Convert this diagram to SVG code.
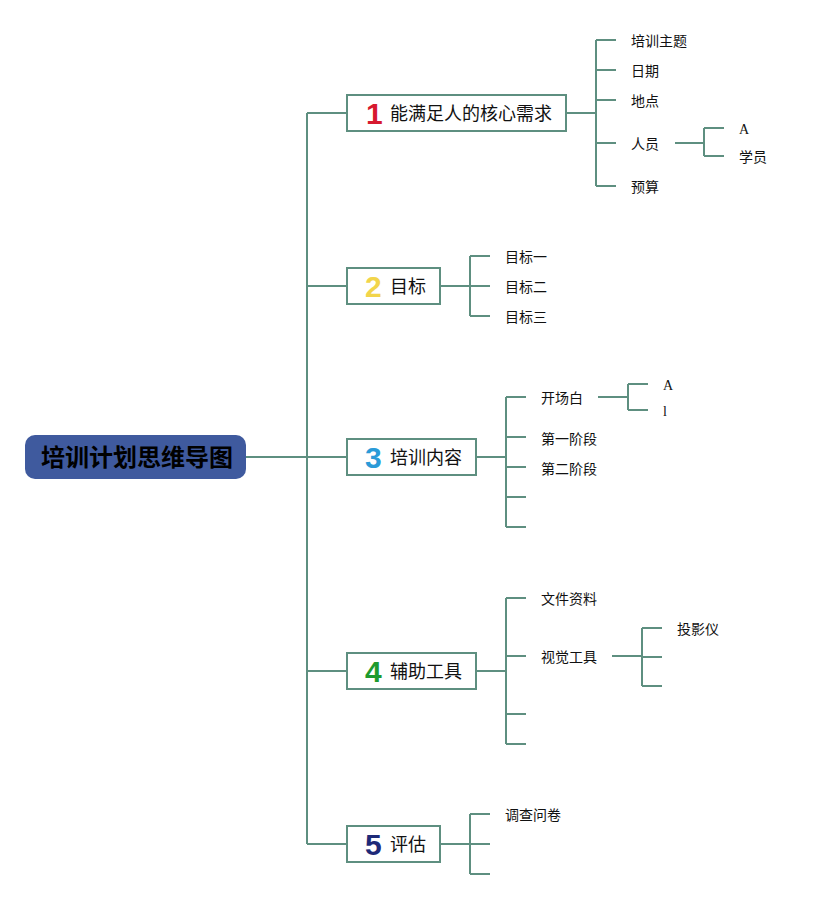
<svg xmlns="http://www.w3.org/2000/svg" width="827" height="899" viewBox="0 0 827 899">
<style>
.ln{fill:none;stroke:#5E8F80;stroke-width:2}
.box{fill:#fff;stroke:#5E8F80;stroke-width:2}
.t1{font-family:"Noto Sans CJK SC","Noto Sans",sans-serif;font-size:18px;fill:#111}
.t2{font-family:"Noto Sans CJK SC","Noto Sans",sans-serif;font-size:14px;fill:#111}
.tl{font-family:"Liberation Serif",serif;font-size:14px;fill:#111}
.num{font-family:"Liberation Sans",Arial,sans-serif;font-weight:bold;font-size:30px}
.root{font-family:"Noto Sans CJK SC",sans-serif;font-weight:bold;font-size:24px;fill:#000}
</style>
<rect width="827" height="899" fill="#fff"/>
<g id="connectors">
<path class="ln" d="M246 457H307M307 113V844M307 113H347M307 286H347M307 457H347M307 671H347M307 844H347"/>
<path class="ln" d="M566 113H596M596 40V186M596 40H616M596 70H616M596 100H616M596 143H616M596 186H616"/>
<path class="ln" d="M675 143H704M704 128V156M704 128H724M704 156H724"/>
<path class="ln" d="M440 286H470M470 256V316M470 256H490M470 286H490M470 316H490"/>
<path class="ln" d="M476 457H506M506 397V527M506 397H526M506 437H526M506 467H526M506 497H526M506 527H526"/>
<path class="ln" d="M598 397H628M628 384V410M628 384H648M628 410H648"/>
<path class="ln" d="M476 671H506M506 598V744M506 598H526M506 656H526M506 714H526M506 744H526"/>
<path class="ln" d="M612 656H642M642 628V686M642 628H662M642 657H662M642 686H662"/>
<path class="ln" d="M440 844H470M470 814V874M470 814H490M470 844H490M470 874H490"/>
</g>
<g id="root">
<rect x="25" y="435" width="221" height="44" rx="10" fill="#3F5A9E"/>
<text class="root" x="137" y="466" text-anchor="middle">培训计划思维导图</text>
</g>
<g id="n1">
<rect class="box" x="347" y="95" width="219" height="36"/>
<text class="num" x="366" y="124" fill="#D7192F">1</text>
<text class="t1" x="390" y="120">能满足人的核心需求</text>
</g>
<g id="n1-1"><text class="t2" x="631" y="46">培训主题</text></g>
<g id="n1-2"><text class="t2" x="631" y="76">日期</text></g>
<g id="n1-3"><text class="t2" x="631" y="106">地点</text></g>
<g id="n1-4"><text class="t2" x="631" y="149">人员</text></g>
<g id="n1-5"><text class="t2" x="631" y="192">预算</text></g>
<g id="n1-4-1"><text class="tl" x="739" y="134">A</text></g>
<g id="n1-4-2"><text class="t2" x="739" y="162">学员</text></g>
<g id="n2">
<rect class="box" x="347" y="268" width="93" height="36"/>
<text class="num" x="365" y="297" fill="#F2D54B">2</text>
<text class="t1" x="390" y="293">目标</text>
</g>
<g id="n2-1"><text class="t2" x="505" y="262">目标一</text></g>
<g id="n2-2"><text class="t2" x="505" y="292">目标二</text></g>
<g id="n2-3"><text class="t2" x="505" y="322">目标三</text></g>
<g id="n3">
<rect class="box" x="347" y="439" width="129" height="36"/>
<text class="num" x="365" y="468" fill="#2A9BD8">3</text>
<text class="t1" x="390" y="464">培训内容</text>
</g>
<g id="n3-1"><text class="t2" x="541" y="403">开场白</text></g>
<g id="n3-2"><text class="t2" x="541" y="444">第一阶段</text></g>
<g id="n3-3"><text class="t2" x="541" y="474">第二阶段</text></g>
<g id="n3-1-1"><text class="tl" x="663" y="390">A</text></g>
<g id="n3-1-2"><text class="tl" x="663" y="416">l</text></g>
<g id="n4">
<rect class="box" x="347" y="653" width="129" height="36"/>
<text class="num" x="365" y="682" fill="#1E9A2E">4</text>
<text class="t1" x="390" y="678">辅助工具</text>
</g>
<g id="n4-1"><text class="t2" x="541" y="604">文件资料</text></g>
<g id="n4-2"><text class="t2" x="541" y="662">视觉工具</text></g>
<g id="n4-2-1"><text class="t2" x="677" y="634">投影仪</text></g>
<g id="n5">
<rect class="box" x="347" y="826" width="93" height="36"/>
<text class="num" x="365" y="855" fill="#1E2A78">5</text>
<text class="t1" x="390" y="851">评估</text>
</g>
<g id="n5-1"><text class="t2" x="505" y="820">调查问卷</text></g>
</svg>
